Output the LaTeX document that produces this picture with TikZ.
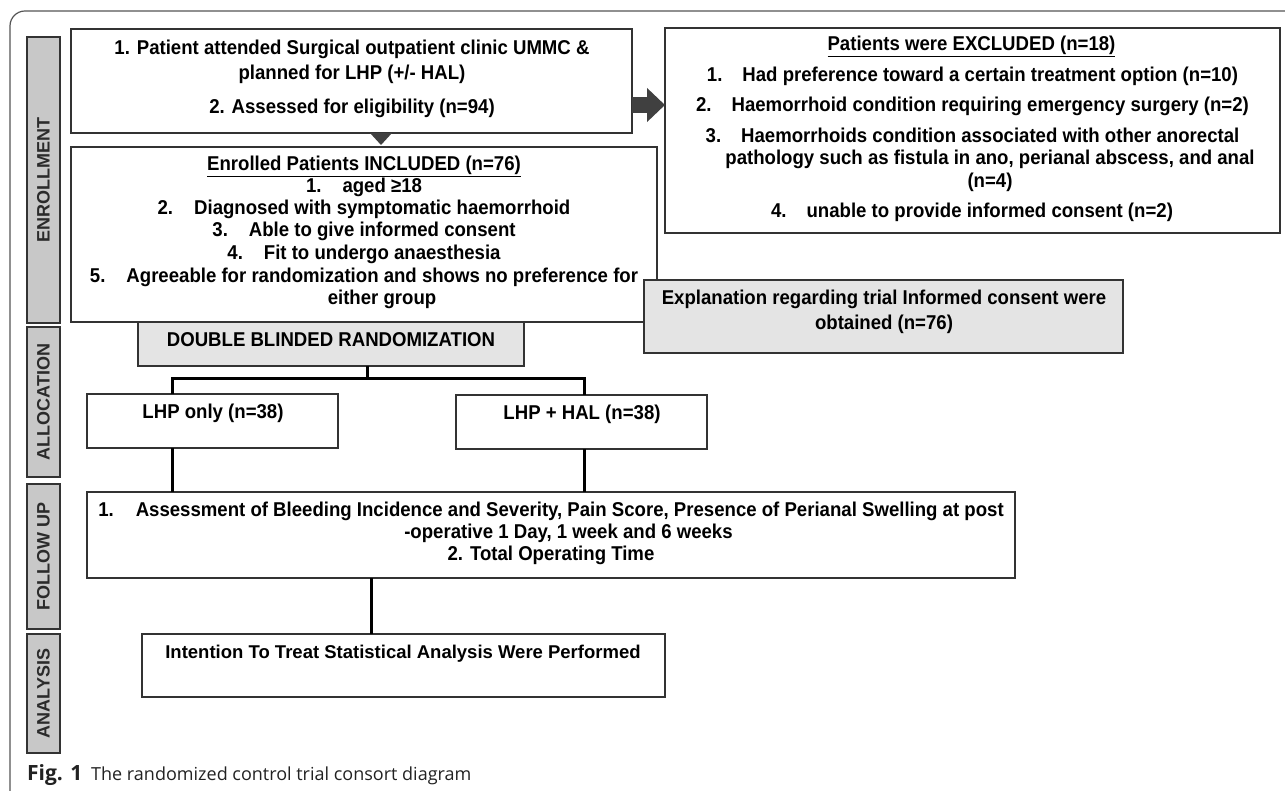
\documentclass[tikz,border=0pt]{standalone}
\usepackage{fontspec}
\setmainfont{Liberation Sans}
\newfontfamily\narfont{Liberation Sans}[FakeStretch=0.93]
\newfontfamily\capfont{Open Sans}
\usetikzlibrary{arrows.meta,calc}
\definecolor{bord}{HTML}{333333}
\definecolor{labfill}{HTML}{C8C8C8}
\definecolor{shadefill}{HTML}{E4E4E4}
\definecolor{arrc}{HTML}{404040}
\definecolor{framec}{HTML}{555555}
\definecolor{labtext}{HTML}{2B2B2B}
\definecolor{captext}{HTML}{222222}
\tikzset{
  box/.style={draw=bord, line width=1.6pt, inner sep=0pt, outer sep=0pt, fill=white},
  shadebox/.style={box, fill=shadefill},
  labbox/.style={draw=bord, line width=1.6pt, fill=labfill, inner sep=0pt, outer sep=0pt, rotate=90,
    minimum height=33pt, text=labtext, font={\bfseries\fontsize{18}{20}\selectfont}},
  txt/.style={inner sep=0pt, anchor=base, text=black, font={\narfont\bfseries\fontsize{20}{22}\selectfont}},
  wtxt/.style={inner sep=0pt, anchor=base, text=black, font={\bfseries\fontsize{18.5}{21}\selectfont}},
  conn/.style={draw=black, line width=3pt, line join=miter}
}
\begin{document}
\begin{tikzpicture}[x=1pt,y=-1pt]
\useasboundingbox (0,0) rectangle (1285,791);
% journal frame
\draw[framec, line width=1.2pt, rounded corners=15pt] (1285,11) -- (10,11) -- (10,791);

% stage labels
\node[labbox, minimum width=286pt] (lenr) at (43.5,180) {ENROLLMENT};
\node[labbox, minimum width=150pt] (lall) at (43.5,402) {ALLOCATION};
\node[labbox, minimum width=145pt] (lfol) at (43.5,556.5) {FOLLOW UP};
\node[labbox, minimum width=119pt] (lana) at (43.5,693.5) {ANALYSIS};

% boxes
\node[box, minimum width=561pt, minimum height=104pt] (top) at (351.5,81) {};
\node[box, minimum width=615pt, minimum height=205pt] (excl) at (972.5,130.5) {};
\node[shadebox, minimum width=386pt, minimum height=44pt] (dbr) at (331,344) {};
\node[box, minimum width=586pt, minimum height=175pt] (incl) at (364,234.5) {};
\node[shadebox, minimum width=479pt, minimum height=73pt] (expl) at (883.5,316.5) {};
\node[box, minimum width=251pt, minimum height=54pt] (lhp) at (212.5,421) {};
\node[box, minimum width=251pt, minimum height=54pt] (hal) at (581.5,422) {};
\node[box, minimum width=928pt, minimum height=86pt] (fu) at (551,535) {};
\node[box, minimum width=523pt, minimum height=63pt] (an) at (403.5,665.5) {};

% connectors
\coordinate (ay) at (0,105);
\draw[draw=arrc, line width=16pt, -{Triangle[length=18pt,width=33pt]}] (top.east |- ay) -- (excl.west |- ay);
\coordinate (tx) at (381,0);
\fill[arrc] ($(top.south -| tx)+(-11,0)$) -- ($(top.south -| tx)+(11,0)$) -- ($(incl.north -| tx)+(0,-2)$) -- cycle;
\coordinate (stem) at (367,379);
\coordinate (bx1) at (172,379);
\coordinate (bx2) at (584,379);
\coordinate (ax) at (371,0);
\draw[conn] (dbr.south -| stem) -- (stem);
\draw[conn] (lhp.north -| bx1) -- (bx1) -- (bx2) -- (hal.north -| bx2);
\draw[conn] (lhp.south -| bx1) -- (fu.north -| bx1);
\draw[conn] (hal.south -| bx2) -- (fu.north -| bx2);
\draw[conn] (fu.south -| ax) -- (an.north -| ax);

% texts: top box
\node[txt] (a1) at (352,55) {1. Patient attended Surgical outpatient clinic UMMC \&};
\node[txt] (a2) at (352,80) {planned for LHP (+/- HAL)};
\node[txt] (a3) at (352,114) {2. Assessed for eligibility (n=94)};
% excluded
\node[txt] (b0) at (971.5,51) {\underline{Patients were EXCLUDED (n=18)}};
\node[txt] (b1) at (972.5,82) {1.\hspace{20pt}Had preference toward a certain treatment option (n=10)};
\node[txt] (b2) at (972.5,112) {2.\hspace{20pt}Haemorrhoid condition requiring emergency surgery (n=2)};
\node[txt] (b3) at (972.5,143) {3.\hspace{20pt}Haemorrhoids condition associated with other anorectal};
\node[txt] (b4) at (990,165) {pathology such as fistula in ano, perianal abscess, and anal};
\node[txt] (b5) at (990,188) {(n=4)};
\node[txt] (b6) at (972,218) {4.\hspace{20pt}unable to provide informed consent (n=2)};
% included
\node[txt] (c0) at (364,171) {\underline{Enrolled Patients INCLUDED (n=76)}};
\node[txt] (c1) at (364,193) {1.\hspace{21pt}aged ≥18};
\node[txt] (c2) at (364,215) {2.\hspace{21pt}Diagnosed with symptomatic haemorrhoid};
\node[txt] (c3) at (364,237) {3.\hspace{21pt}Able to give informed consent};
\node[txt] (c4) at (364,260) {4.\hspace{21pt}Fit to undergo anaesthesia};
\node[txt] (c5) at (364,283) {5.\hspace{21pt}Agreeable for randomization and shows no preference for};
\node[txt] (c6) at (382,305) {either group};
% explanation
\node[txt] (d1) at (884,305) {Explanation regarding trial Informed consent were};
\node[txt] (d2) at (884,330) {obtained (n=76)};
% allocation
\node[txt] (e1) at (331,347) {DOUBLE BLINDED RANDOMIZATION};
\node[txt] (f1) at (213,418) {LHP only (n=38)};
\node[txt] (f2) at (582,419) {LHP + HAL (n=38)};
% follow up
\node[txt] (g1) at (551,516) {1.\hspace{22pt}Assessment of Bleeding Incidence and Severity, Pain Score, Presence of Perianal Swelling at post};
\node[txt] (g2) at (568.5,538) {-operative 1 Day, 1 week and 6 weeks};
\node[txt] (g3) at (551,560) {2. Total Operating Time};
% analysis
\node[wtxt] (h1) at (403,658) {Intention To Treat Statistical Analysis Were Performed};

% caption
\node[anchor=base west, inner sep=0pt, text=captext, font={\capfont\bfseries\fontsize{21}{23}\selectfont}] (capfig) at (27,780) {Fig. 1};
\node[anchor=base west, inner sep=0pt, text=captext, font={\capfont\fontsize{18}{20}\selectfont}] (captxt) at (91,780) {The randomized control trial consort diagram};
\end{tikzpicture}
\end{document}
